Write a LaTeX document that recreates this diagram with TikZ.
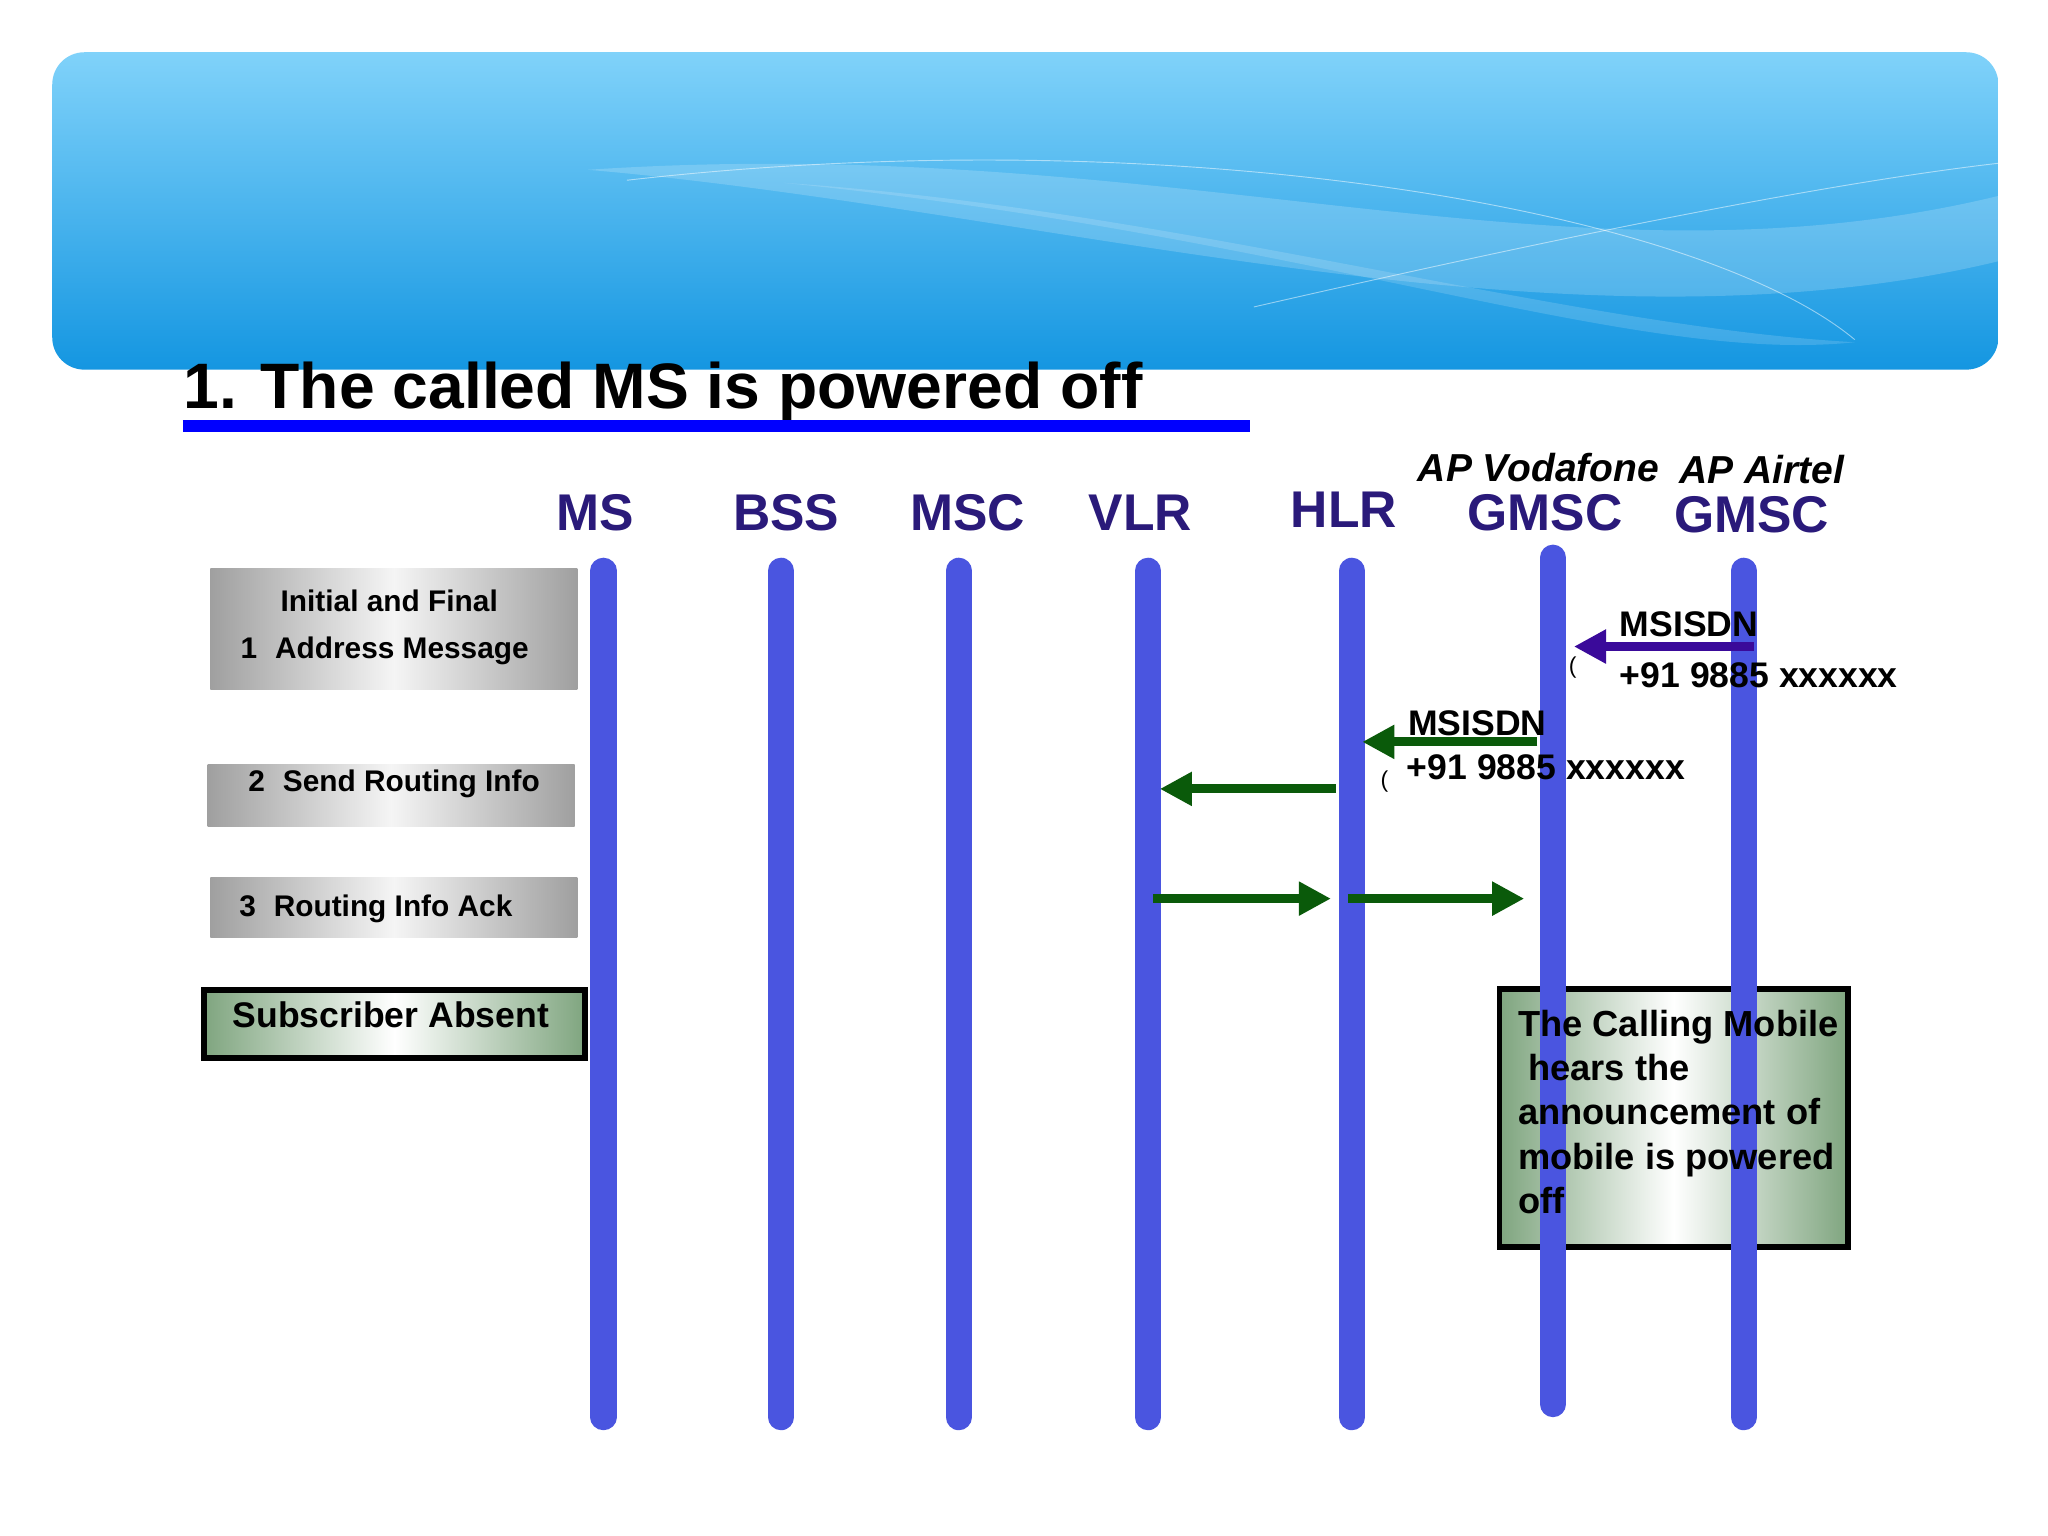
\documentclass[tikz,border=0pt]{standalone}
\usepackage{fontspec}
\setmainfont{Liberation Sans}
\usetikzlibrary{arrows.meta}
\definecolor{hdr}{HTML}{2A1A7A}
\definecolor{life}{HTML}{4A55E0}
\definecolor{grn}{HTML}{0A5A0A}
\definecolor{pur}{HTML}{3A0A9A}
\definecolor{gbox}{HTML}{7FA57F}
\definecolor{bantop}{HTML}{80D2FA}
\definecolor{banbot}{HTML}{1496E1}
\tikzset{
 lifeline/.style={line width=11.4pt,life,line cap=round},
 colhead/.style={font=\fontsize{22.5}{22.5}\selectfont\bfseries,text=hdr,anchor=base},
 ophead/.style={font=\fontsize{17}{17}\selectfont\bfseries\itshape,text=black,anchor=base},
 graybox/.style={left color=gray!75,right color=gray!75,middle color=gray!8,draw=none},
 msgtext/.style={font=\fontsize{13}{17}\selectfont\bfseries,anchor=base west},
 lbl/.style={font=\fontsize{15.5}{15.5}\selectfont\bfseries,anchor=base west},
 garrow/.style={line width=4pt,grn,-{Triangle[length=14pt,width=14pt]}},
 parrow/.style={line width=4pt,pur,-{Triangle[length=14pt,width=14pt]}}
}
\begin{document}
\begin{tikzpicture}[x=0.02cm,y=-0.02cm]
\useasboundingbox (0,0) rectangle (1568,1176);
\fill[white] (0,0) rectangle (1568,1176);
% banner
\shade[top color=bantop, bottom color=banbot, rounded corners=14pt] (40,40) rectangle (1530,283);
\fill[white,opacity=0.18] (450,130) .. controls (900,100) and (1200,230) .. (1530,150) -- (1530,200) .. controls (1200,280) and (800,160) .. (450,130);
\fill[white,opacity=0.15] (600,140) .. controls (1000,180) and (1250,280) .. (1420,262) .. controls (1200,250) and (900,160) .. (600,140);
\draw[white,opacity=0.5] (480,138) .. controls (900,90) and (1300,160) .. (1420,260);
\draw[white,opacity=0.5] (960,235) .. controls (1200,180) and (1400,140) .. (1530,125);
% title
\node[font=\fontsize{28}{28}\selectfont\bfseries,anchor=base west,inner sep=0] (title) at (140,313) {1. The called MS is powered off};
\draw[line width=5pt,blue] (140,326) -- (957,326);
% headers
\node[colhead] (hMS) at (456,406) {MS};
\node[colhead] (hBSS) at (602,406) {BSS};
\node[colhead] (hMSC) at (741,406) {MSC};
\node[colhead] (hVLR) at (873,406) {VLR};
\node[colhead] (hHLR) at (1029,404) {HLR};
\node[ophead] (opV) at (1178,369) {AP Vodafone};
\node[colhead] (hGV) at (1183,406) {GMSC};
\node[ophead] (opA) at (1349,370) {AP Airtel};
\node[colhead] (hGA) at (1341,408) {GMSC};
% right green box (behind lines)
\shade[left color=gbox,right color=gbox,middle color=white] (1148,757) rectangle (1415,955);
\draw[black,line width=2.5pt] (1148,757) rectangle (1415,955);
% lifelines
\coordinate (tMS) at (462,437); \coordinate (bMS) at (462,1085);
\coordinate (tBSS) at (598,437); \coordinate (bBSS) at (598,1085);
\coordinate (tMSC) at (734,437); \coordinate (bMSC) at (734,1085);
\coordinate (tVLR) at (879,437); \coordinate (bVLR) at (879,1085);
\coordinate (tHLR) at (1035,437); \coordinate (bHLR) at (1035,1085);
\coordinate (tGV) at (1189,427); \coordinate (bGV) at (1189,1075);
\coordinate (tGA) at (1335,437); \coordinate (bGA) at (1335,1085);
\foreach \n in {MS,BSS,MSC,VLR,HLR,GV,GA} \draw[lifeline] (t\n) -- (b\n);
% left boxes
\shade[graybox] (161,435) rectangle (442,528);
\node[msgtext,anchor=base] (m1a) at (298,468) {Initial and Final};
\node[msgtext] (m1b) at (178,504) {1\hspace{0.6em}Address Message};
\shade[graybox] (159,585) rectangle (440,633);
\node[msgtext] (m2) at (184,606) {2\hspace{0.6em}Send Routing Info};
\shade[graybox] (161,672) rectangle (442,718);
\node[msgtext] (m3) at (177,702) {3\hspace{0.6em}Routing Info Ack};
\shade[left color=gbox,right color=gbox,middle color=white] (156,758) rectangle (448,810);
\draw[black,line width=2.5pt] (156,758) rectangle (448,810);
\node[lbl] (sa) at (172,787) {Subscriber Absent};
% right box text
\node[font=\fontsize{15.8}{19.3}\selectfont\bfseries,align=left,anchor=north west,inner sep=0] (rbt) at (1162,773) {The Calling Mobile\\ \ hears the\\announcement of\\mobile is powered\\off};
% arrows
\coordinate (p1s) at (1343,495); \coordinate (p1e) at (1205,495);
\draw[parrow] (p1s) -- (p1e);
\node[lbl] (ms1) at (1234,487) {MSISDN};
\node[lbl] (num1) at (1234,526) {+91 9885 xxxxxx};
\node[font=\fontsize{10}{10}\selectfont,anchor=base] (par1) at (1204,516) {(};
\coordinate (g1s) at (1177,568); \coordinate (g1e) at (1043,568);
\draw[garrow] (g1s) -- (g1e);
\node[lbl] (ms2) at (1072,563) {MSISDN};
\node[lbl] (num2) at (1071,597) {+91 9885 xxxxxx};
\node[font=\fontsize{10}{10}\selectfont,anchor=base] (par2) at (1060,603) {(};
\coordinate (g2s) at (1023,604); \coordinate (g2e) at (888,604);
\draw[garrow] (g2s) -- (g2e);
\coordinate (g3s) at (883,688); \coordinate (g3e) at (1019,688);
\draw[garrow] (g3s) -- (g3e);
\coordinate (g4s) at (1032,688); \coordinate (g4e) at (1167,688);
\draw[garrow] (g4s) -- (g4e);
\end{tikzpicture}
\end{document}
